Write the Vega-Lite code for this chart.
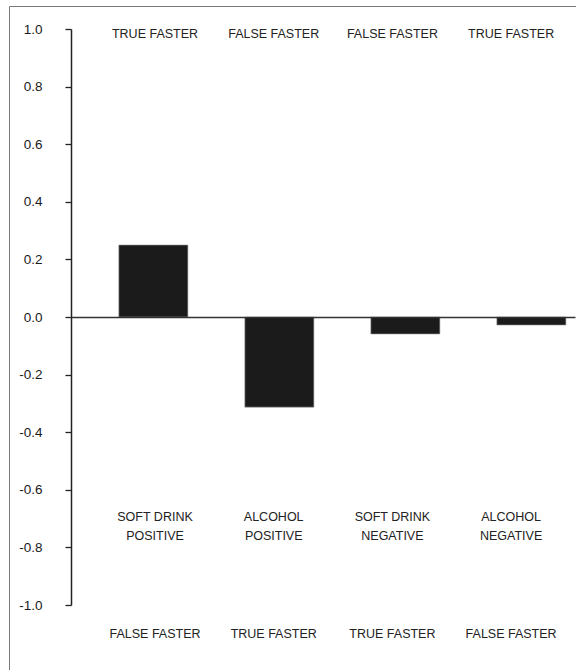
{
  "$schema": "https://vega.github.io/schema/vega-lite/v6.json",
  "width": 567,
  "height": 670,
  "autosize": {"type": "none"},
  "padding": {"left": 9, "top": 6, "right": 0, "bottom": 0},
  "background": "white",
  "config": {
    "view": {"stroke": "#7a7a7a", "strokeWidth": 1},
    "font": "Liberation Sans",
    "text": {"font": "Liberation Sans", "fontSize": 12.5, "color": "#222222"}
  },
  "data": {
    "values": [
      {"cat": "SDP", "value": 0.25, "top": "TRUE FASTER", "bottom": "FALSE FASTER", "line1": "SOFT DRINK", "line2": "POSITIVE"},
      {"cat": "AP", "value": -0.313, "top": "FALSE FASTER", "bottom": "TRUE FASTER", "line1": "ALCOHOL", "line2": "POSITIVE"},
      {"cat": "SDN", "value": -0.059, "top": "FALSE FASTER", "bottom": "TRUE FASTER", "line1": "SOFT DRINK", "line2": "NEGATIVE"},
      {"cat": "AN", "value": -0.028, "top": "TRUE FASTER", "bottom": "FALSE FASTER", "line1": "ALCOHOL", "line2": "NEGATIVE"}
    ]
  },
  "resolve": {"scale": {"x": "independent"}},
  "layer": [
    {
      "mark": {"type": "bar", "color": "#1b1b1b", "stroke": "#9a9a9a", "strokeWidth": 0.6},
      "encoding": {
        "x": {
          "field": "cat",
          "type": "nominal",
          "sort": null,
          "scale": {"range": [62, 566], "paddingInner": 0.452, "paddingOuter": 0.226, "align": 0.84},
          "axis": {
            "orient": "bottom",
            "offset": -359,
            "labels": false,
            "ticks": false,
            "domain": true,
            "domainColor": "#333333",
            "domainWidth": 1.5,
            "title": null,
            "grid": false,
            "zindex": 1
          }
        },
        "y": {
          "field": "value",
          "type": "quantitative",
          "scale": {"domain": [-1, 1], "range": [599, 23], "nice": false, "zero": true},
          "axis": {
            "orient": "left",
            "offset": -62,
            "values": [-1, -0.8, -0.6, -0.4, -0.2, 0, 0.2, 0.4, 0.6, 0.8, 1],
            "labelExpr": "replace(format(datum.value, '.1f'), '\u2212', '-')",
            "labelFont": "Liberation Sans",
            "labelFontSize": 13.5,
            "labelColor": "#1a1a1a",
            "labelPadding": 23,
            "tickSize": 6,
            "tickColor": "#222222",
            "tickWidth": 1.3,
            "domainColor": "#222222",
            "domainWidth": 1.5,
            "grid": false,
            "title": null
          }
        },
        "y2": {"datum": 0}
      }
    },
    {
      "encoding": {
        "x": {
          "field": "cat",
          "type": "nominal",
          "sort": null,
          "scale": {"type": "point", "range": [62, 566], "padding": 0.623, "align": 0.568},
          "axis": null
        }
      },
      "layer": [
        {
          "mark": {"type": "text"},
          "encoding": {"y": {"datum": 0.983, "type": "quantitative"}, "text": {"field": "top"}}
        },
        {
          "mark": {"type": "text"},
          "encoding": {"y": {"datum": -0.696, "type": "quantitative"}, "text": {"field": "line1"}}
        },
        {
          "mark": {"type": "text"},
          "encoding": {"y": {"datum": -0.76, "type": "quantitative"}, "text": {"field": "line2"}}
        },
        {
          "mark": {"type": "text"},
          "encoding": {"y": {"datum": -1.1, "type": "quantitative"}, "text": {"field": "bottom"}}
        }
      ]
    }
  ]
}
